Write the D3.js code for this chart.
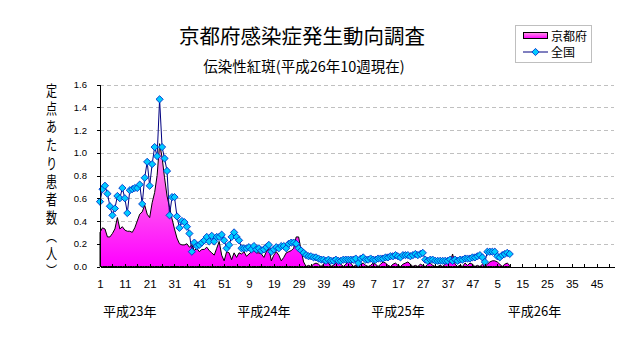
<!DOCTYPE html>
<html><head><meta charset="utf-8">
<script src="https://cdn.jsdelivr.net/npm/d3@7"></script>
<style>body{margin:0;background:#fff}svg{display:block}</style>
</head><body>
<svg id="c" width="632" height="348"></svg>
<script>
// ---- data ----
const yearNames = ["平成23年","平成24年","平成25年","平成26年"];
const weeksPerYear = [52,52,52,52];
const yTicks = [0,0.2,0.4,0.6,0.8,1.0,1.2,1.4,1.6];
const seriesNames = ["京都府","全国"];
const kyoto = [
0.30,0.34,0.33,0.26,0.26,0.29,0.33,0.43,0.33,0.35,
0.32,0.31,0.31,0.30,0.34,0.40,0.46,0.48,0.54,0.46,
0.43,0.56,0.65,0.80,1.08,0.96,0.78,0.62,0.52,0.42,
0.33,0.25,0.20,0.19,0.19,0.20,0.17,0.19,0.14,0.16,
0.13,0.15,0.15,0.17,0.14,0.12,0.10,0.16,0.22,0.10,
0.05,0.13,0.12,0.06,0.12,0.08,0.12,0.11,0.13,0.09,
0.11,0.13,0.14,0.12,0.12,0.11,0.08,0.13,0.16,0.05,
0.10,0.13,0.10,0.05,0.08,0.12,0.13,0.14,0.16,0.26,
0.26,0.14,0.04,0.00,0.01,0.00,0.02,0.03,0.02,0.00,
0.02,0.04,0.03,0.00,0.01,0.03,0.04,0.02,0.00,0.02,
0.04,0.03,0.00,0.01,0.00,0.02,0.03,0.01,0.00,0.01,
0.03,0.02,0.00,0.02,0.04,0.03,0.01,0.00,0.02,0.03,
0.01,0.00,0.02,0.03,0.04,0.02,0.00,0.01,0.00,0.02,
0.01,0.00,0.02,0.03,0.01,0.00,0.00,0.01,0.00,0.02,
0.03,0.04,0.11,0.02,0.00,0.01,0.00,0.03,0.01,0.03,
0.02,0.00,0.01,0.00,0.02,0.00,0.02,0.04,0.05,0.05,
0.04,0.02,0.00,0.02,0.03,0.01];
const national = [
0.57,0.68,0.71,0.64,0.53,0.45,0.51,0.62,0.60,0.69,
0.60,0.47,0.67,0.68,0.69,0.69,0.72,0.55,0.78,0.92,
0.71,0.90,1.05,0.97,1.47,1.05,0.95,0.84,0.45,0.61,
0.61,0.44,0.34,0.40,0.39,0.35,0.29,0.13,0.21,0.18,
0.19,0.21,0.23,0.26,0.22,0.27,0.22,0.26,0.26,0.28,
0.23,0.16,0.19,0.26,0.30,0.26,0.23,0.16,0.16,0.16,
0.17,0.15,0.18,0.15,0.16,0.14,0.15,0.17,0.19,0.13,
0.15,0.17,0.16,0.18,0.18,0.16,0.20,0.21,0.21,0.20,
0.16,0.14,0.12,0.10,0.09,0.09,0.08,0.08,0.07,0.06,
0.06,0.05,0.06,0.05,0.05,0.06,0.05,0.05,0.06,0.06,
0.06,0.06,0.06,0.07,0.03,0.07,0.08,0.06,0.06,0.07,
0.06,0.06,0.07,0.07,0.07,0.08,0.08,0.09,0.09,0.10,
0.09,0.08,0.10,0.10,0.10,0.09,0.10,0.11,0.10,0.11,
0.12,0.06,0.05,0.06,0.06,0.05,0.05,0.05,0.05,0.05,
0.05,0.06,0.05,0.06,0.05,0.06,0.06,0.07,0.07,0.07,
0.08,0.08,0.09,0.10,0.08,0.04,0.13,0.13,0.13,0.13,
0.09,0.08,0.10,0.11,0.12,0.11];
const title = "京都府感染症発生動向調査";
const subtitle = "伝染性紅斑(平成26年10週現在)";
const yLabel = "定点あたり患者数（人）";

// ---- layout ----
const L = {left:100, right:614, top:84.5, bottom:266.5};
const yearLabelShift = [12,14,16,19];
const cjk = "'Noto Sans CJK JP','Noto Sans',sans-serif";
const num = "'Liberation Sans',Arial,sans-serif";

const categories = [];
const yearStart = [];
weeksPerYear.forEach((n,yi)=>{ yearStart.push(categories.length); for(let w=1;w<=n;w++) categories.push({year:yi, week:w}); });

const svg = d3.select("#c");
const x = d3.scalePoint().domain(d3.range(categories.length)).range([L.left, L.right]);
const y = d3.scaleLinear().domain([0,1.6]).range([L.bottom, L.top]);

const defs = svg.append("defs");
const grad = defs.append("linearGradient").attr("id","pinkGrad").attr("x1",0).attr("y1",0).attr("x2",0).attr("y2",1);
grad.append("stop").attr("offset",0).attr("stop-color","#ff9be6");
grad.append("stop").attr("offset",1).attr("stop-color","#ff00ff");

// grid
svg.append("g").selectAll("line").data(yTicks.filter(d=>d>0)).join("line")
  .attr("x1",L.left).attr("x2",L.right)
  .attr("y1",d=>Math.round(y(d))+0.5).attr("y2",d=>Math.round(y(d))+0.5)
  .attr("stroke","#c0c0c0").attr("stroke-dasharray","4,3").attr("shape-rendering","crispEdges");

// Kyoto area
const area = d3.area().x((d,i)=>x(i)).y0(y(0)).y1(d=>y(d));
svg.append("path").datum(kyoto).attr("d",area)
  .attr("fill","url(#pinkGrad)").attr("stroke","#000").attr("stroke-width",1).attr("stroke-linejoin","miter");

// national line
const line = d3.line().x((d,i)=>x(i)).y(d=>y(d));
svg.append("path").datum(national).attr("d",line)
  .attr("fill","none").attr("stroke","#000080").attr("stroke-width",1);
const diamond = "M0,-3.6L3.6,0L0,3.6L-3.6,0Z";
svg.append("g").selectAll("path").data(national).join("path")
  .attr("d",diamond).attr("transform",(d,i)=>`translate(${x(i)},${y(d)})`)
  .attr("fill","#00ccff").attr("stroke","#0033cc").attr("stroke-width",0.9);

// axes
const gx = svg.append("g").attr("transform",`translate(0,${L.bottom})`)
  .call(d3.axisBottom(x).tickValues(d3.range(0,categories.length,5)).tickSize(-3).tickSizeOuter(0).tickFormat(""));
gx.selectAll("path,line").attr("stroke","#000").attr("shape-rendering","crispEdges");

const gxl = svg.append("g").attr("transform",`translate(0,${L.bottom})`)
  .call(d3.axisBottom(x).tickValues(d3.range(0,categories.length,10)).tickSize(0).tickPadding(13).tickFormat(i=>categories[i].week));
gxl.select(".domain").remove();
gxl.selectAll("text").attr("font-family",num).attr("font-size",11.5).attr("fill","#000");

const gy = svg.append("g").attr("transform",`translate(${L.left},0)`)
  .call(d3.axisLeft(y).tickValues(yTicks).tickSize(3).tickSizeOuter(0).tickPadding(10).tickFormat(d3.format(".1f")));
gy.selectAll("path,line").attr("stroke","#000").attr("shape-rendering","crispEdges");
gy.selectAll("text").attr("font-family",num).attr("font-size",9.5).attr("fill","#000");

// year labels
svg.append("g").selectAll("text").data(yearNames).join("text")
  .attr("x",(d,i)=>x(yearStart[i]+yearLabelShift[i])).attr("y",316)
  .attr("text-anchor","middle").attr("font-family",cjk).attr("font-size",13).text(d=>d);

// y label (vertical text)
svg.append("text")
  .attr("transform","translate(51.5,83) scale(0.74,1)")
  .attr("x",0).attr("y",0)
  .style("writing-mode","vertical-rl").style("text-orientation","mixed")
  .attr("font-family",cjk).attr("font-size",15).attr("letter-spacing",3.1)
  .text(yLabel);

// titles
svg.append("text").attr("x",302).attr("y",44).attr("text-anchor","middle")
  .attr("font-family",cjk).attr("font-size",20.5).text(title);
svg.append("text").attr("x",304).attr("y",71.5).attr("text-anchor","middle")
  .attr("font-family",cjk).attr("font-size",14.5).text(subtitle);

// legend
const lg = svg.append("g");
lg.append("rect").attr("x",515.5).attr("y",25.5).attr("width",76).attr("height",37)
  .attr("fill","#fff").attr("stroke","#bfbfbf");
lg.append("rect").attr("x",523.5).attr("y",32.5).attr("width",24).attr("height",6)
  .attr("fill","url(#pinkGrad)").attr("stroke","#000");
lg.append("line").attr("x1",523).attr("x2",548).attr("y1",52).attr("y2",52).attr("stroke","#000080");
lg.append("path").attr("d",diamond).attr("transform","translate(535.5,52)")
  .attr("fill","#00ccff").attr("stroke","#0033cc").attr("stroke-width",0.9);
lg.selectAll("text.lt").data(seriesNames).join("text").attr("class","lt")
  .attr("x",551).attr("y",(d,i)=>40.5+i*16).attr("font-family",cjk).attr("font-size",12).text(d=>d);
</script>
</body></html>
